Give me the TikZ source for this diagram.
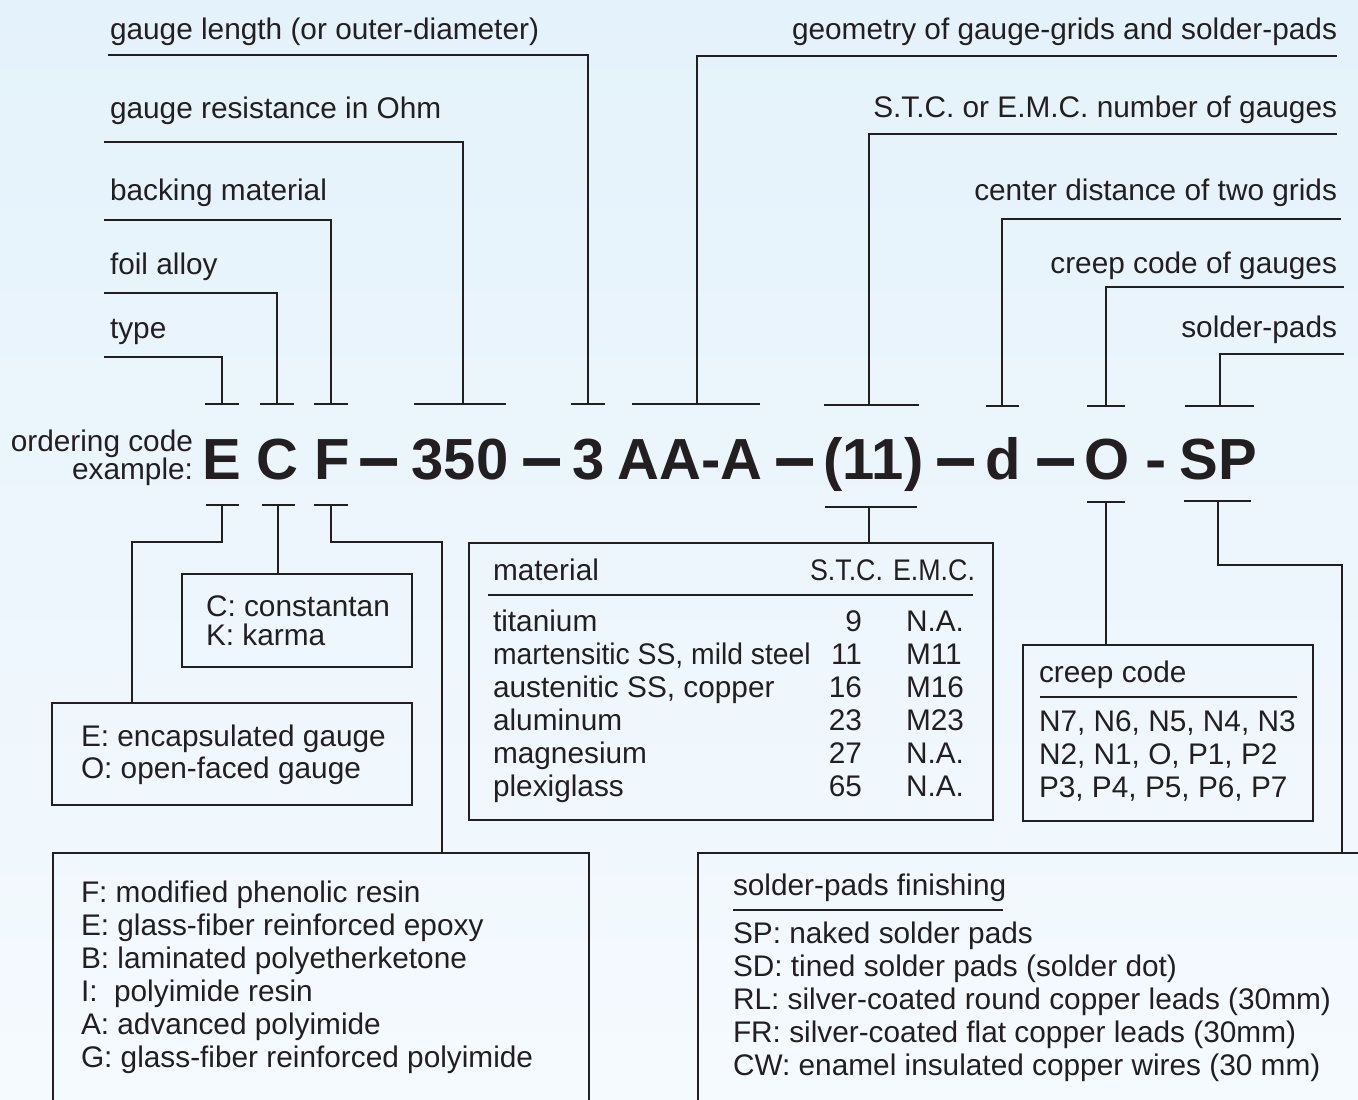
\documentclass[tikz,border=0pt]{standalone}
\usepackage{fontspec}
\setmainfont{Liberation Sans}
\usepackage{graphicx}
\definecolor{ink}{HTML}{231F20}
\definecolor{bgtop}{RGB}{228,242,251}
\definecolor{bgbot}{RGB}{245,250,254}
\newcommand{\bigdash}{\scalebox{1.28}[1.35]{\raisebox{-3pt}{–}}}
\tikzset{
  lbl/.style={inner sep=0pt, outer sep=0pt, text=ink, font=\fontsize{29.8}{33}\selectfont},
  codetxt/.style={inner sep=0pt, outer sep=0pt, text=ink, font=\fontsize{58}{60}\selectfont\bfseries},
  conn/.style={draw=ink, line width=2pt},
  frame/.style={draw=ink, line width=2pt, inner sep=0pt, outer sep=0pt, anchor=north west},
}
\begin{document}
\begin{tikzpicture}[x=1pt,y=-1pt]
\useasboundingbox (0,0) rectangle (1358,1100);
\fill[top color=bgtop,bottom color=bgbot] (0,0) rectangle (1358,1100);
\clip (0,0) rectangle (1358,1100);

% ---------- top labels ----------
\node[lbl,anchor=base west] (lLen) at (110,39.5) {gauge length (or outer-diameter)};
\node[lbl,anchor=base west] (lRes) at (110,118) {gauge resistance in Ohm};
\node[lbl,anchor=base west] (lBack) at (110,200) {backing material};
\node[lbl,anchor=base west] (lFoil) at (110,274) {foil alloy};
\node[lbl,anchor=base west] (lType) at (110,338) {type};
\node[lbl,anchor=base east] (lGeo) at (1337,39.5) {geometry of gauge-grids and solder-pads};
\node[lbl,anchor=base east] (lStc) at (1337,117.5) {S.T.C. or E.M.C. number of gauges};
\node[lbl,anchor=base east] (lDist) at (1337,200) {center distance of two grids};
\node[lbl,anchor=base east] (lCreep) at (1337,273) {creep code of gauges};
\node[lbl,anchor=base east] (lPads) at (1337,337) {solder-pads};

% ---------- code line ----------
\node[lbl,anchor=base east] (ord) at (193,451.7) {ordering code};
\node[lbl,anchor=base east] (exa) at (193,479) {example:};
\node[codetxt,anchor=base] (cE) at (222,479) {E};
\node[codetxt,anchor=base] (cC) at (277.5,479) {C};
\node[codetxt,anchor=base] (cF) at (332,479) {F};
\node[codetxt,anchor=base] (dA) at (379.5,479) {\bigdash};
\node[codetxt,anchor=base] (c350) at (460,479) {350};
\node[codetxt,anchor=base] (dB) at (542.5,479) {\bigdash};
\node[codetxt,anchor=base] (c3) at (588.5,479) {3};
\node[codetxt,anchor=base] (cAA) at (690,479) {AA-A};
\node[codetxt,anchor=base] (dC) at (795,479) {\bigdash};
\node[codetxt,anchor=base] (c11) at (873.5,479) {(11)};
\node[codetxt,anchor=base] (dD) at (956,479) {\bigdash};
\node[codetxt,anchor=base] (cd) at (1003,479) {d};
\node[codetxt,anchor=base] (dE) at (1056,479) {\bigdash};
\node[codetxt,anchor=base] (cO) at (1107,479) {O};
\node[codetxt,anchor=base] (dF) at (1156,479) {\scalebox{1.1}[1]{-}};
\node[codetxt,anchor=base] (cSP) at (1218,479) {SP};

% ---------- T-bar points above ----------
\coordinate (tE) at (222,404);
\coordinate (tC) at (277,404);
\coordinate (tF) at (331,404);
\coordinate (t350) at (463,404);
\coordinate (t3) at (587.5,404);
\coordinate (tAA) at (697,404);
\coordinate (t11) at (869,405);
\coordinate (td) at (1002,406);
\coordinate (tO) at (1106,406);
\coordinate (tSP) at (1220,406);

\draw[conn] (tE) ++(-17,0) -- ++(34,0);
\draw[conn] (tC) ++(-17,0) -- ++(34,0);
\draw[conn] (tF) ++(-17,0) -- ++(34,0);
\draw[conn] (414,404) -- (506,404);
\draw[conn] (t3) ++(-17,0) -- ++(34,0);
\draw[conn] (632,404) -- (760,404);
\draw[conn] (824,405) -- (919,405);
\draw[conn] (td) ++(-16.5,0) -- ++(33,0);
\draw[conn] (tO) ++(-19,0) -- ++(38,0);
\draw[conn] (1185,406) -- (1254,406);

\draw[conn] (108,55) -| (t3);
\draw[conn] (104,142) -| (t350);
\draw[conn] (104,220) -| (tF);
\draw[conn] (104,293) -| (tC);
\draw[conn] (104,357) -| (tE);
\draw[conn] (1337,56) -| (tAA);
\draw[conn] (1337,134) -| (t11);
\draw[conn] (1341,219) -| (td);
\draw[conn] (1344,287) -| (tO);
\draw[conn] (1344,354) -| (tSP);

% ---------- boxes ----------
\node[frame,minimum width=230,minimum height=93] (boxC) at (182,574) {};
\node[frame,minimum width=360,minimum height=102] (boxE) at (52,703) {};
\node[frame,minimum width=536,minimum height=320] (boxF) at (53,853) {};
\node[frame,minimum width=524,minimum height=277] (boxT) at (469,543) {};
\node[frame,minimum width=290,minimum height=176] (boxK) at (1023,645) {};
\node[frame,minimum width=700,minimum height=320] (boxS) at (698,853) {};

% ---------- T-bar points below ----------
\coordinate (bE) at (222,505);
\coordinate (bC) at (278,505);
\coordinate (bF) at (331,505);
\coordinate (b11) at (869,507);
\coordinate (bO) at (1106,502);
\coordinate (bSP) at (1218,501);

\draw[conn] (bE) ++(-16.5,0) -- ++(33,0);
\draw[conn] (bC) ++(-16.5,0) -- ++(33,0);
\draw[conn] (bF) ++(-17,0) -- ++(34,0);
\draw[conn] (825,507) -- (917,507);
\draw[conn] (bO) ++(-19,0) -- ++(38,0);
\draw[conn] (1184,501) -- (1251,501);

\draw[conn] (bE) |- (132,542) -- (132,0 |- boxE.north);
\draw[conn] (bC) -- (bC |- boxC.north);
\draw[conn] (bF) |- (442,542) -- (442,0 |- boxF.north);
\draw[conn] (b11) -- (b11 |- boxT.north);
\draw[conn] (bO) -- (bO |- boxK.north);
\draw[conn] (bSP) |- (1342,565) -- (1342,0 |- boxS.north);

% ---------- box contents ----------
\node[lbl,anchor=base west] (cc1) at (206,616) {C: constantan};
\node[lbl,anchor=base west] (cc2) at (206,645.5) {K: karma};
\node[lbl,anchor=base west] (ee1) at (81,746) {E: encapsulated gauge};
\node[lbl,anchor=base west] (ee2) at (81,778.7) {O: open-faced gauge};

\node[lbl,anchor=base west] (fRows) at (81,902.7) {\begin{tabular}[t]{@{}l@{}}F: modified phenolic resin\\E: glass-fiber reinforced epoxy\\B: laminated polyetherketone\\I:\ \ polyimide resin\\A: advanced polyimide\\G: glass-fiber reinforced polyimide\end{tabular}};

\node[lbl,anchor=base west] (tMat) at (493,580.7) {material};
\node[lbl,anchor=base west] (tSTC) at (810,580.7) {\scalebox{0.9}[1]{S.T.C.}};
\node[lbl,anchor=base west] (tEMC) at (893,580.7) {\scalebox{0.9}[1]{E.M.C.}};
\draw[conn] (488,595) -- (973,595);
\node[lbl,anchor=base west] (tRows) at (493,631.7) {\begin{tabular}[t]{@{}l@{}}titanium\\\scalebox{0.95}[1]{martensitic SS, mild steel}\\austenitic SS, copper\\aluminum\\magnesium\\plexiglass\end{tabular}};
\node[lbl,anchor=base east] (tNums) at (862,631.7) {\begin{tabular}[t]{@{}r@{}}9\\11\\16\\23\\27\\65\end{tabular}};
\node[lbl,anchor=base west] (tEmcs) at (906,631.7) {\begin{tabular}[t]{@{}l@{}}N.A.\\M11\\M16\\M23\\N.A.\\N.A.\end{tabular}};

\node[lbl,anchor=base west] (kHead) at (1039,682.7) {creep code};
\draw[conn] (1040,697) -- (1297,697);
\node[lbl,anchor=base west] (kRows) at (1039,731.7) {\begin{tabular}[t]{@{}l@{}}N7, N6, N5, N4, N3\\N2, N1, O, P1, P2\\P3, P4, P5, P6, P7\end{tabular}};

\node[lbl,anchor=base west] (sHead) at (733,895) {solder-pads finishing};
\draw[conn] (733,910) -- (1003,910);
\node[lbl,anchor=base west] (sRows) at (733,943.3) {\begin{tabular}[t]{@{}l@{}}SP: naked solder pads\\SD: tined solder pads (solder dot)\\RL: silver-coated round copper leads (30mm)\\FR: silver-coated flat copper leads (30mm)\\CW: enamel insulated copper wires (30 mm)\end{tabular}};
\end{tikzpicture}
\end{document}
